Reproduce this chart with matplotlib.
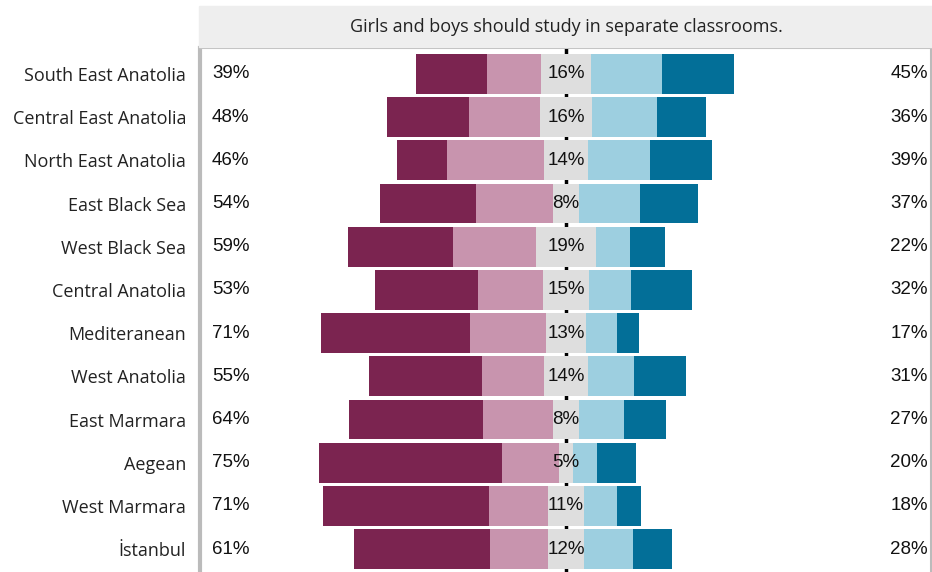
import numpy as np
import matplotlib.pyplot as plt
from matplotlib.patches import Rectangle
from matplotlib import transforms

# regions from top to bottom
regions = ['South East Anatolia', 'Central East Anatolia', 'North East Anatolia',
           'East Black Sea', 'West Black Sea', 'Central Anatolia', 'Mediteranean',
           'West Anatolia', 'East Marmara', 'Aegean', 'West Marmara', 'İstanbul']

# percent of answers per category
strongly_disagree = [22.3, 25.8, 15.7, 30.2, 33.0, 32.4, 46.9, 35.5, 42.3, 57.5, 52.2, 42.8]
disagree = [17.0, 22.3, 30.5, 24.2, 26.1, 20.4, 23.9, 19.5, 21.9, 17.9, 18.6, 18.2]
neutral = [15.7, 16.4, 13.8, 8.2, 18.9, 14.6, 12.6, 13.6, 8.2, 4.7, 11.3, 11.6]
agree = [22.3, 20.4, 19.5, 19.2, 10.7, 13.2, 9.7, 14.6, 14.2, 7.5, 10.4, 15.4]
strongly_agree = [22.6, 15.4, 19.5, 18.2, 11.0, 19.0, 6.9, 16.5, 13.2, 12.3, 7.5, 12.3]

title = 'Girls and boys should study in separate classrooms.'
colors = ['#7b2450', '#c894ae', '#dedede', '#9dcfe0', '#036f98']

sd = np.array(strongly_disagree)
d = np.array(disagree)
n = np.array(neutral)
a = np.array(agree)
sa = np.array(strongly_agree)
y = np.arange(len(regions))

fig = plt.figure(figsize=(9.32, 5.72), dpi=100)
W, H = 932, 572
ax = fig.add_axes([200 / W, 0, 731 / W, 1 - 48 / H])

# header strip
fig.patches.append(Rectangle((199 / W, 1 - 47 / H), 733 / W, 41 / H,
                             transform=fig.transFigure, color='#eeeeee', zorder=0))
fig.text(566 / W, 1 - 27 / H, title, ha='center', va='center',
         fontsize=13, family='Open Sans', color='#222222')

ax.axvline(0, color='black', lw=2.5, zorder=0)

left = -(sd + d + n / 2)
for vals, c in zip([sd, d, n, a, sa], colors):
    ax.barh(y, vals, left=left, height=0.92, color=c, zorder=2)
    left = left + vals

trans = transforms.blended_transform_factory(ax.transAxes, ax.transData)
pct_font = dict(fontsize=13.5, family=['Liberation Sans', 'DejaVu Sans'], color='#111111')
for i in y:
    ax.text(0.0164, i, f'{round(sd[i] + d[i]):.0f}%', transform=trans,
            ha='left', va='center', **pct_font)
    ax.text(0.996, i, f'{round(a[i] + sa[i]):.0f}%', transform=trans,
            ha='right', va='center', **pct_font)
    ax.text(0, i, f'{round(n[i]):.0f}%', ha='center', va='center', zorder=3, **pct_font)

ax.set_xlim(-115.1, 114.8)
ax.set_ylim(11.53, -0.6)
ax.set_yticks(y)
ax.set_yticklabels(regions, fontsize=13, family='Open Sans', color='#222222')
ax.tick_params(axis='y', length=0, pad=10)
ax.set_xticks([])

for s in ['top', 'right', 'left']:
    ax.spines[s].set_color('#bbbbbb')
ax.spines['left'].set_linewidth(3)
ax.spines['top'].set_linewidth(1.5)
ax.spines['right'].set_linewidth(1.5)
ax.spines['bottom'].set_visible(False)

fig.savefig('out.png', dpi=100)
